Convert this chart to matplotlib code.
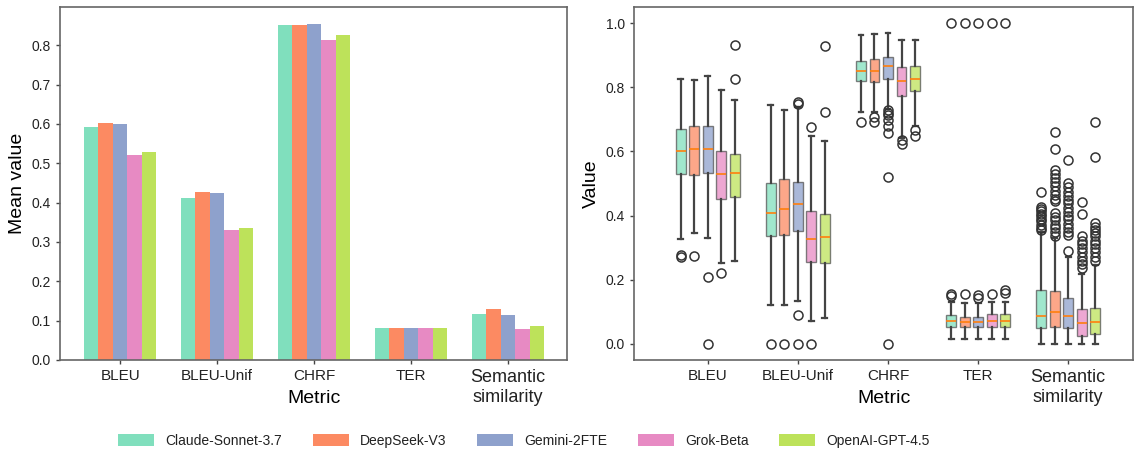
import numpy as np
import matplotlib
matplotlib.use("Agg")
import matplotlib.pyplot as plt
from matplotlib.patches import Patch

plt.rcParams['font.family'] = ['Liberation Sans', 'DejaVu Sans']
plt.rcParams['text.color'] = '#222222'
plt.rcParams['xtick.color'] = '#444444'
plt.rcParams['ytick.color'] = '#444444'
plt.rcParams['xtick.labelcolor'] = '#222222'
plt.rcParams['ytick.labelcolor'] = '#222222'

#%% datos
metricas = ['BLEU', 'BLEU-Unif', 'CHRF', 'TER', 'Semantic\nsimilarity']
modelos = ['Claude-Sonnet-3.7', 'DeepSeek-V3', 'Gemini-2FTE', 'Grok-Beta', 'OpenAI-GPT-4.5']
colores = ['#80dfbd', '#fc8a62', '#8ea1cc', '#e78ac3', '#bde25a']

# medias (panel izquierdo), una lista por modelo, en el orden de metricas
claude_mean = [0.593, 0.412, 0.850, 0.080, 0.117]
deepseek_mean = [0.603, 0.428, 0.850, 0.080, 0.129]
gemini_mean = [0.600, 0.425, 0.854, 0.080, 0.114]
grok_mean = [0.522, 0.330, 0.813, 0.082, 0.078]
openai_mean = [0.528, 0.336, 0.826, 0.082, 0.087]

# cajas (panel derecho): [whislo, q1, med, q3, whishi] por modelo
bleu_box = [[0.327, 0.530, 0.600, 0.670, 0.827],
            [0.345, 0.528, 0.607, 0.678, 0.823],
            [0.331, 0.534, 0.609, 0.679, 0.836],
            [0.252, 0.451, 0.531, 0.600, 0.792],
            [0.258, 0.457, 0.532, 0.593, 0.759]]
bleu_fliers = [[0.277, 0.272], [0.275], [0.210, 0.0], [0.222], [0.931, 0.825]]

unif_box = [[0.122, 0.335, 0.407, 0.503, 0.745],
            [0.120, 0.339, 0.420, 0.514, 0.730],
            [0.135, 0.351, 0.437, 0.505, 0.738],
            [0.071, 0.256, 0.328, 0.414, 0.647],
            [0.080, 0.252, 0.332, 0.405, 0.632]]
unif_fliers = [[0.0], [0.0], [0.753, 0.748, 0.091, 0.0], [0.676, 0.0], [0.927, 0.724]]

chrf_box = [[0.724, 0.818, 0.852, 0.883, 0.964],
            [0.724, 0.815, 0.849, 0.887, 0.967],
            [0.732, 0.826, 0.865, 0.894, 0.969],
            [0.641, 0.773, 0.818, 0.862, 0.946],
            [0.678, 0.787, 0.825, 0.867, 0.946]]
chrf_fliers = [[0.691], [0.706, 0.693],
               [0.730, 0.721, 0.714, 0.698, 0.678, 0.657, 0.520, 0.0],
               [0.634, 0.623], [0.667, 0.649]]

ter_box = [[0.015, 0.052, 0.070, 0.090, 0.132],
           [0.015, 0.052, 0.068, 0.085, 0.129],
           [0.015, 0.052, 0.068, 0.083, 0.128],
           [0.015, 0.052, 0.072, 0.092, 0.132],
           [0.015, 0.054, 0.070, 0.092, 0.132]]
ter_fliers = [[1.0, 0.156, 0.148], [1.0, 0.156], [1.0, 0.151, 0.143], [1.0, 0.156], [1.0, 0.168, 0.158]]

sem_box = [[0.0, 0.049, 0.088, 0.168, 0.348],
           [0.0, 0.052, 0.101, 0.165, 0.330],
           [0.0, 0.050, 0.088, 0.142, 0.272],
           [0.0, 0.026, 0.064, 0.108, 0.218],
           [0.0, 0.030, 0.068, 0.111, 0.245]]
sem_fliers = [[0.475, 0.428, 0.420, 0.413, 0.405, 0.398, 0.390, 0.382, 0.372, 0.362, 0.355],
              [0.659, 0.608, 0.543, 0.530, 0.518, 0.505, 0.492, 0.478, 0.465, 0.452, 0.444,
               0.408, 0.395, 0.385, 0.372, 0.360, 0.348, 0.336],
              [0.574, 0.501, 0.488, 0.475, 0.462, 0.450, 0.438, 0.425, 0.412, 0.400, 0.388,
               0.375, 0.362, 0.350, 0.338, 0.291],
              [0.442, 0.405, 0.335, 0.322, 0.310, 0.298, 0.285, 0.272, 0.260, 0.248, 0.236],
              [0.691, 0.582, 0.376, 0.365, 0.355, 0.345, 0.335, 0.322, 0.310, 0.298, 0.285,
               0.270, 0.258]]

#%% figura
fig = plt.figure(figsize=(11.37, 4.57), dpi=100)
ax1 = fig.add_axes([0.0528, 0.2123, 0.4459, 0.7724])
ax2 = fig.add_axes([0.5576, 0.2123, 0.4389, 0.7724])

x = np.arange(len(metricas))
ancho = 0.15
medias = [claude_mean, deepseek_mean, gemini_mean, grok_mean, openai_mean]
for j, vals in enumerate(medias):
    ax1.bar(x + (j - 2) * ancho, vals, ancho, color=colores[j], label=modelos[j])

ax1.set_xlim(-0.62, 4.61)
ax1.set_ylim(0, 0.897)
ax1.set_yticks(np.arange(0, 0.81, 0.1))
ax1.set_yticklabels(['%.1f' % v for v in np.arange(0, 0.81, 0.1)])
ax1.set_ylabel('Mean value', fontsize=14)
ax1.set_xlabel('Metric', fontsize=14)

# cajas
cajas = [bleu_box, unif_box, chrf_box, ter_box, sem_box]
outliers = [bleu_fliers, unif_fliers, chrf_fliers, ter_fliers, sem_fliers]
for i in range(len(metricas)):
    for j in range(len(modelos)):
        lo, q1, med, q3, hi = cajas[i][j]
        st = dict(whislo=lo, q1=q1, med=med, q3=q3, whishi=hi, fliers=outliers[i][j])
        b = ax2.bxp([st], positions=[i + (j - 2) * ancho], widths=0.11, patch_artist=True,
                    manage_ticks=False,
                    boxprops=dict(facecolor=colores[j], alpha=0.75, edgecolor='#555555', linewidth=1.0),
                    medianprops=dict(color='#ff7f0e', linewidth=1.2),
                    whiskerprops=dict(color='#444444', linewidth=1.6),
                    capprops=dict(color='#444444', linewidth=1.6),
                    flierprops=dict(marker='o', markerfacecolor='none', markeredgecolor='#333333',
                                    markersize=6.5, markeredgewidth=1.1))

ax2.set_xlim(-0.82, 4.72)
ax2.set_ylim(-0.05, 1.05)
ax2.set_yticks([0.0, 0.2, 0.4, 0.6, 0.8, 1.0])
ax2.set_yticklabels(['0.0', '0.2', '0.4', '0.6', '0.8', '1.0'])
ax2.set_ylabel('Value', fontsize=14)
ax2.set_xlabel('Metric', fontsize=14)

for ax in (ax1, ax2):
    ax.set_xticks(x)
    ax.set_xticklabels(metricas)
    ax.tick_params(axis='x', labelsize=11, length=3, width=1)
    ax.tick_params(axis='y', labelsize=10, length=3, width=1)
    ax.get_xticklabels()[-1].set_fontsize(13)
    ax.xaxis.set_label_coords(0.5, -0.085)
    for s in ax.spines.values():
        s.set_color('#666666')
        s.set_linewidth(1.2)

handles = [Patch(facecolor=c, edgecolor='none') for c in colores]
fig.legend(handles, modelos, loc='center', bbox_to_anchor=(0.461, 0.035), ncol=5,
           frameon=False, handlelength=2.6, handleheight=0.9, handletextpad=0.8,
           columnspacing=2.2, prop={'size': 10})

fig.savefig('out.png', dpi=100)
